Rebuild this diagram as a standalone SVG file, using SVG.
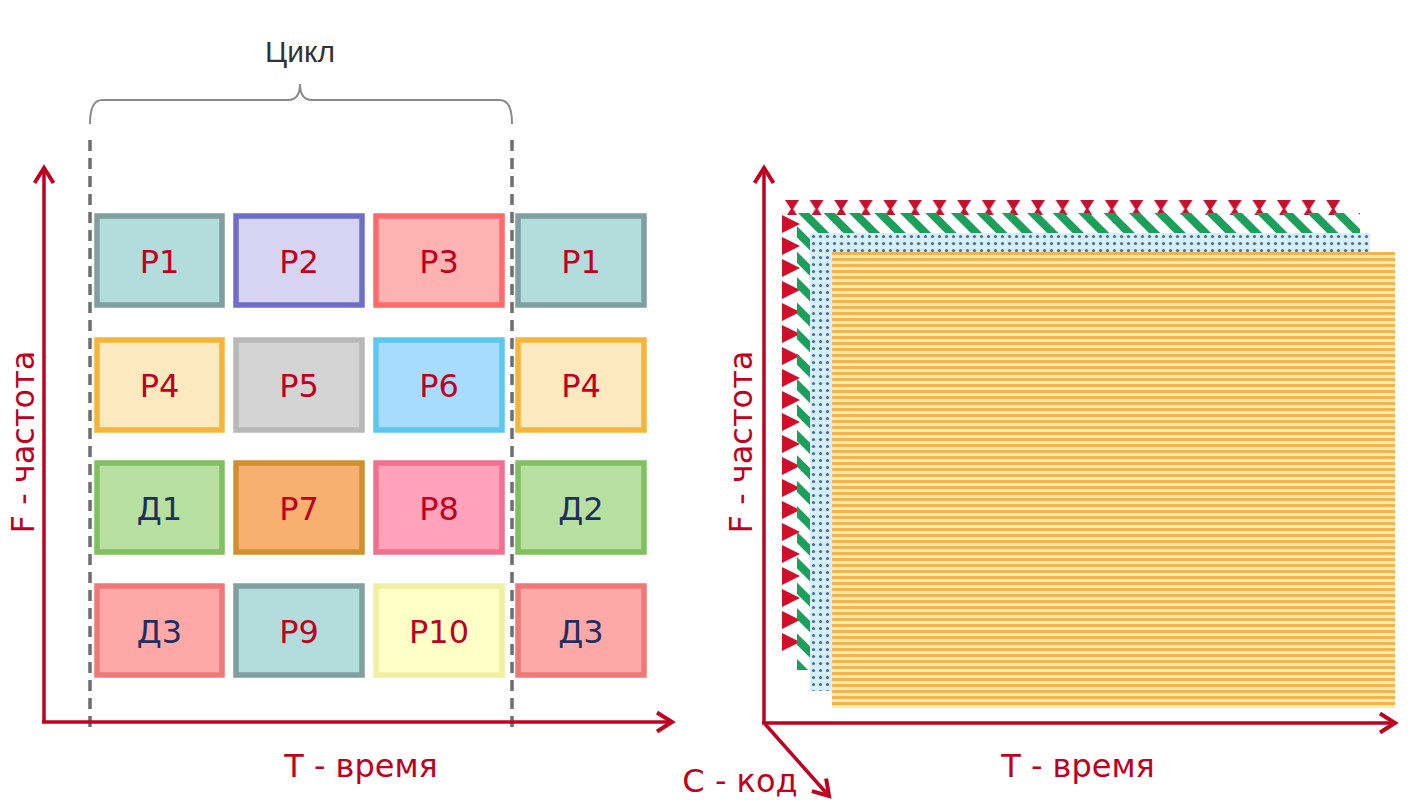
<svg xmlns="http://www.w3.org/2000/svg" width="1419" height="800" viewBox="0 0 1419 800">
<style>
.box{stroke-width:5.5}
.lbl{font-family:"DejaVu Sans",Verdana,sans-serif;font-size:32px;text-anchor:middle;fill:#c0001e}
.lblD{font-family:"DejaVu Sans",Verdana,sans-serif;font-size:32px;text-anchor:middle;fill:#1f2f5f}
.ax{stroke:#c0001e;stroke-width:3.5;fill:none}
.axl{font-family:"DejaVu Sans",Verdana,sans-serif;font-size:32px;fill:#c0001e;text-anchor:middle}
.dash{stroke:#6e6e6e;stroke-width:3.5;stroke-dasharray:11 7}
</style>
<defs>
<marker id="arr" markerWidth="24" markerHeight="24" refX="18" refY="11" orient="auto" markerUnits="userSpaceOnUse">
<path d="M3,1.5 L18,11 L3,20.5" fill="none" stroke="#c0001e" stroke-width="4"/>
</marker>
<pattern id="redTop" patternUnits="userSpaceOnUse" x="780" y="200" width="24.6" height="16">
<path d="M5,0 L19,0 L13.2,9 L17,15 L7,15 L10.8,9 Z" fill="#c8102e"/>
</pattern>
<pattern id="redLeft" patternUnits="userSpaceOnUse" x="781" y="213" width="20" height="22">
<path d="M1,2 L19,11 L1,20 Z" fill="#d0102a"/>
</pattern>
<pattern id="green" patternUnits="userSpaceOnUse" x="797" y="212" width="18" height="18" patternTransform="rotate(-45 797 212)">
<rect x="0" y="0" width="8" height="18" fill="#1aa05a"/>
</pattern>
<pattern id="dots" patternUnits="userSpaceOnUse" x="810" y="233" width="7" height="7">
<rect width="7" height="7" fill="#d6f0fb"/>
<circle cx="3.5" cy="3.5" r="1.6" fill="#4a6aa8"/>
</pattern>
<pattern id="stripes" patternUnits="userSpaceOnUse" x="832" y="252" width="10" height="6">
<rect width="10" height="6" fill="#fdebb4"/>
<rect width="10" height="3" fill="#f6b24c"/>
</pattern>
</defs>
<rect width="1419" height="800" fill="#ffffff"/>

<!-- Left panel: cycle brace -->
<g id="cycle">
<text x="300" y="62" font-family="Liberation Sans,Arial,sans-serif" font-size="30" fill="#333333" text-anchor="middle">Цикл</text>
<path d="M90,124 Q90,100 102,100 L288,100 Q300,100 300,84 Q300,100 312,100 L500,100 Q512,100 512,124" fill="none" stroke="#8a8a8a" stroke-width="2"/>
<line class="dash" x1="90" y1="140" x2="90" y2="730"/>
<line class="dash" x1="512" y1="140" x2="512" y2="730"/>
</g>

<g id="left-axes">
<line class="ax" x1="44" y1="722" x2="44" y2="168" marker-end="url(#arr)"/>
<line class="ax" x1="42" y1="722" x2="672" y2="722" marker-end="url(#arr)"/>
<text class="axl" transform="translate(34 442) rotate(-90)">F - частота</text>
<text class="axl" x="361" y="777">T - время</text>
</g>

<!-- Boxes -->
<g id="P1a"><rect class="box" x="97" y="216" width="125" height="89" fill="#b3dcdc" stroke="#809f9f"/><text class="lbl" x="159.5" y="273">P1</text></g>
<g id="P2"><rect class="box" x="236" y="216" width="126" height="89" fill="#d6d4f0" stroke="#6e6ec8"/><text class="lbl" x="299" y="273">P2</text></g>
<g id="P3"><rect class="box" x="376" y="216" width="126" height="89" fill="#ffb2b2" stroke="#ff6a6a"/><text class="lbl" x="439" y="273">P3</text></g>
<g id="P1b"><rect class="box" x="518" y="216" width="126" height="89" fill="#b3dcdc" stroke="#809f9f"/><text class="lbl" x="581" y="273">P1</text></g>

<g id="P4a"><rect class="box" x="97" y="340" width="125" height="90" fill="#fde9c0" stroke="#f5b53a"/><text class="lbl" x="159.5" y="397">P4</text></g>
<g id="P5"><rect class="box" x="236" y="340" width="126" height="90" fill="#d4d4d4" stroke="#b8b8b8"/><text class="lbl" x="299" y="397">P5</text></g>
<g id="P6"><rect class="box" x="376" y="340" width="126" height="90" fill="#a8dcff" stroke="#5cc8f0"/><text class="lbl" x="439" y="397">P6</text></g>
<g id="P4b"><rect class="box" x="518" y="340" width="126" height="90" fill="#fde9c0" stroke="#f5b53a"/><text class="lbl" x="581" y="397">P4</text></g>

<g id="D1"><rect class="box" x="97" y="463" width="125" height="89" fill="#b8e0a0" stroke="#80c060"/><text class="lblD" x="159.5" y="520">Д1</text></g>
<g id="P7"><rect class="box" x="236" y="463" width="126" height="89" fill="#f8b070" stroke="#d09030"/><text class="lbl" x="299" y="520">P7</text></g>
<g id="P8"><rect class="box" x="376" y="463" width="126" height="89" fill="#ffa2ba" stroke="#f07090"/><text class="lbl" x="439" y="520">P8</text></g>
<g id="D2"><rect class="box" x="518" y="463" width="126" height="89" fill="#b8e0a0" stroke="#80c060"/><text class="lblD" x="581" y="520">Д2</text></g>

<g id="D3a"><rect class="box" x="97" y="586" width="125" height="89" fill="#ffa8a8" stroke="#f07878"/><text class="lblD" x="159.5" y="643">Д3</text></g>
<g id="P9"><rect class="box" x="236" y="586" width="126" height="89" fill="#b3dcdc" stroke="#809f9f"/><text class="lbl" x="299" y="643">P9</text></g>
<g id="P10"><rect class="box" x="376" y="586" width="126" height="89" fill="#ffffc8" stroke="#f0f0a0"/><text class="lbl" x="439" y="643">P10</text></g>
<g id="D3b"><rect class="box" x="518" y="586" width="126" height="89" fill="#ffa8a8" stroke="#f07878"/><text class="lblD" x="581" y="643">Д3</text></g>

<!-- Right panel: code layers -->
<g id="layer-red">
<rect x="782" y="200" width="558" height="15" fill="url(#redTop)"/>
<rect x="781" y="213" width="20" height="440" fill="url(#redLeft)"/>
</g>
<g id="layer-green">
<rect x="797" y="213" width="563" height="457" fill="url(#green)"/>
</g>
<g id="layer-blue">
<rect x="810" y="233" width="560" height="458" fill="url(#dots)"/>
</g>
<g id="layer-orange">
<rect x="832" y="252" width="563" height="456" fill="url(#stripes)"/>
</g>

<g id="right-axes">
<line class="ax" x1="764" y1="723" x2="764" y2="168" marker-end="url(#arr)"/>
<line class="ax" x1="762" y1="723" x2="1395" y2="723" marker-end="url(#arr)"/>
<line class="ax" x1="765" y1="724" x2="829" y2="796" marker-end="url(#arr)"/>
<text class="axl" transform="translate(752 442) rotate(-90)">F - частота</text>
<text class="axl" x="1078" y="777">T - время</text>
<text class="axl" x="740" y="792">С - код</text>
</g>
</svg>
